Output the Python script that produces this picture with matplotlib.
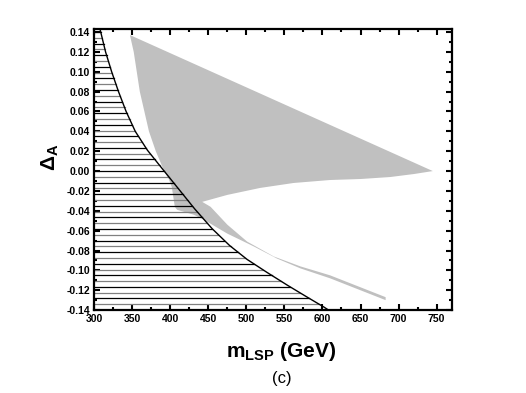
import numpy as np
import matplotlib
matplotlib.use('Agg')
import matplotlib.pyplot as plt
from matplotlib.ticker import MultipleLocator

plt.rcParams['font.family'] = ['Liberation Sans', 'DejaVu Sans']
plt.rcParams['mathtext.fontset'] = 'custom'
plt.rcParams['mathtext.rm'] = 'Liberation Sans'
plt.rcParams['mathtext.bf'] = 'Liberation Sans:bold'

# boundary of the excluded (hatched) region
curve_m = [308, 315, 323, 332, 342, 354, 370, 392, 412, 432, 455, 478, 501, 527,
           554, 580, 602, 608]
curve_d = [0.142, 0.120, 0.100, 0.080, 0.060, 0.040, 0.021, 0.000, -0.019, -0.038,
           -0.058, -0.075, -0.089, -0.102, -0.115, -0.127, -0.137, -0.140]

# allowed region (gray), outline
region_m = [347, 745, 720, 689, 650, 610, 562, 518, 475, 442, 453, 475, 501, 536,
            571, 610, 683, 683, 610, 571, 540, 510, 475, 444, 431, 409, 406, 402,
            398, 392, 381, 372, 366, 360, 356, 352]
region_d = [0.137, 0.000, -0.003, -0.006, -0.008, -0.009, -0.012, -0.017, -0.024,
            -0.031, -0.036, -0.054, -0.071, -0.086, -0.096, -0.105, -0.127, -0.130,
            -0.108, -0.098, -0.088, -0.076, -0.063, -0.049, -0.044, -0.039, -0.036,
            -0.016, -0.008, 0.000, 0.020, 0.040, 0.060, 0.080, 0.100, 0.120]

fig = plt.figure(figsize=(5.26, 3.93), dpi=100)
ax = fig.add_axes([0.179, 0.211, 0.680, 0.715])

ax.fill(region_m, region_d, color='#c0c0c0', lw=0, zorder=1)

# horizontal hatch lines up to the boundary curve
hy = np.linspace(-0.14, 0.14, 49)
hx = np.interp(hy, curve_d[::-1], curve_m[::-1])
for i, (y, x) in enumerate(zip(hy, hx)):
    ax.plot([300, x], [y, y], color='black' if i % 2 == 0 else '#808080', lw=0.9, zorder=2)

ax.plot(curve_m, curve_d, color='black', lw=1.0, zorder=3)

ax.set_xlim(300, 770)
ax.set_ylim(-0.14, 0.143)
ax.xaxis.set_major_locator(MultipleLocator(50))
ax.xaxis.set_minor_locator(MultipleLocator(25))
ax.yaxis.set_minor_locator(MultipleLocator(0.01))
ax.set_yticks(np.arange(-0.14, 0.141, 0.02))
ax.set_yticklabels(['%.2f' % v for v in np.arange(-0.14, 0.141, 0.02)])
ax.tick_params(which='both', direction='in', top=True, right=True, width=1.5,
               labelsize=7.5, pad=3)
ax.tick_params(which='major', length=4.5)
ax.tick_params(which='minor', length=2.5)
for lab in ax.get_xticklabels() + ax.get_yticklabels():
    lab.set_fontweight('bold')
for s in ax.spines.values():
    s.set_linewidth(1.6)

fig.text(0.535, 0.105, r'$\mathbf{m_{LSP}}$ (GeV)', ha='center', va='center',
         fontsize=15, fontweight='bold')
fig.text(0.535, 0.038, '(c)', ha='center', va='center', fontsize=12)
fig.text(0.095, 0.60, r'$\mathbf{\Delta_A}$', ha='center', va='center',
         fontsize=15, rotation=90)

fig.savefig('out.png', dpi=100)
